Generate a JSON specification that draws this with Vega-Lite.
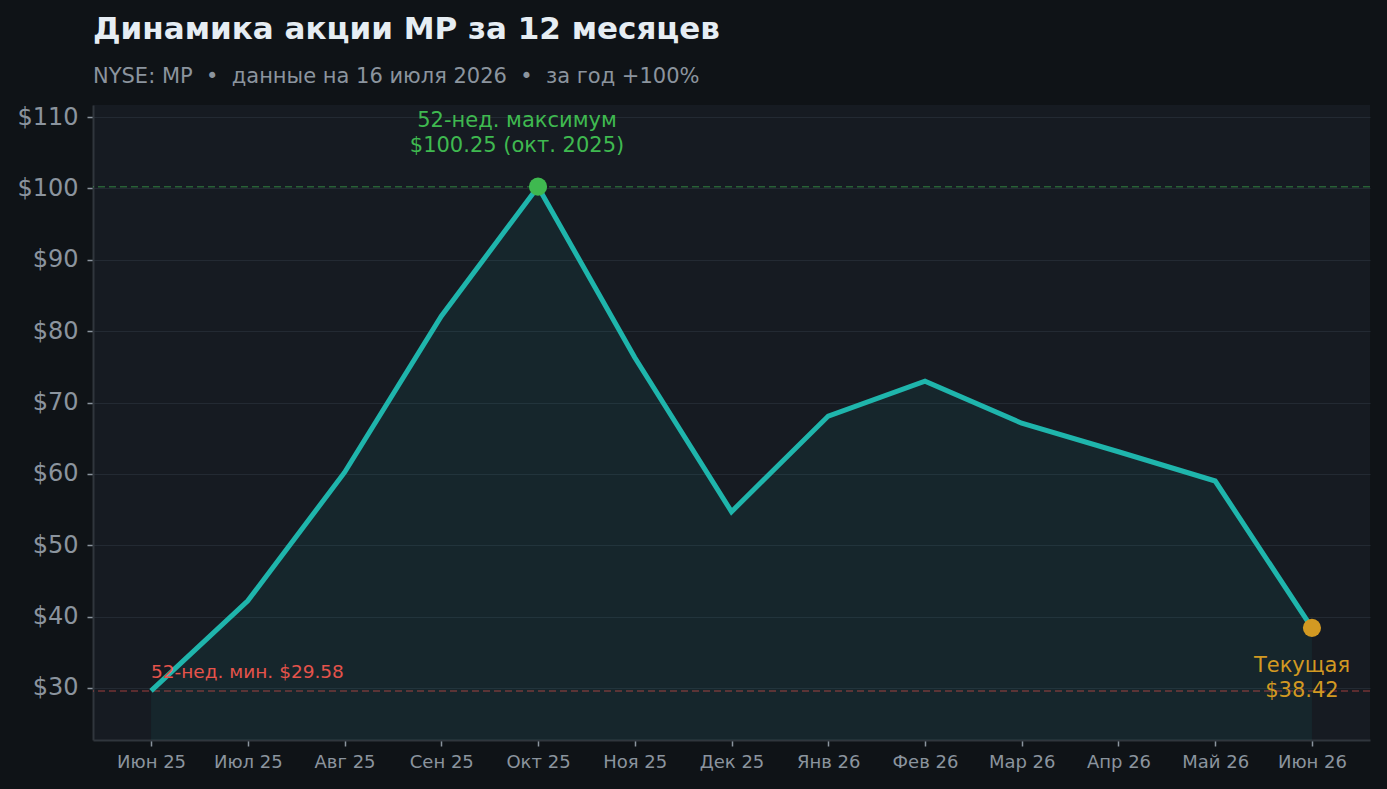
{
  "$schema": "https://vega.github.io/schema/vega-lite/v6.json",
  "width": 1387,
  "height": 789,
  "autosize": {"type": "fit", "contains": "padding"},
  "padding": {"left": 16, "right": 16, "top": 14, "bottom": 18},
  "background": "#0f1317",
  "title": {
    "text": "Динамика акции MP за 12 месяцев",
    "subtitle": "NYSE: MP \u00a0•\u00a0 данные на 16 июля 2026 \u00a0•\u00a0 за год +100%",
    "anchor": "start",
    "frame": "group",
    "font": "DejaVu Sans",
    "fontSize": 31,
    "fontWeight": "bold",
    "color": "#e6edf3",
    "subtitleFont": "DejaVu Sans",
    "subtitleFontSize": 21,
    "subtitleColor": "#8b949e",
    "subtitlePadding": 20,
    "offset": 17
  },
  "datasets": {
    "price": [
      {"month": "Июн 25", "price": 29.58},
      {"month": "Июл 25", "price": 42.2},
      {"month": "Авг 25", "price": 60.2},
      {"month": "Сен 25", "price": 82.1},
      {"month": "Окт 25", "price": 100.25},
      {"month": "Ноя 25", "price": 76.3},
      {"month": "Дек 25", "price": 54.7},
      {"month": "Янв 26", "price": 68.1},
      {"month": "Фев 26", "price": 73.0},
      {"month": "Мар 26", "price": 67.1},
      {"month": "Апр 26", "price": 63.1},
      {"month": "Май 26", "price": 59.0},
      {"month": "Июн 26", "price": 38.42}
    ],
    "high": [{"month": "Окт 25", "price": 100.25, "label": ["52-нед. максимум", "$100.25 (окт. 2025)"]}],
    "low": [{"month": "Июн 25", "price": 29.58, "label": "52-нед. мин. $29.58"}],
    "current": [{"month": "Июн 26", "price": 38.42, "label": ["Текущая", "$38.42"]}]
  },
  "encoding": {
    "x": {
      "field": "month",
      "type": "ordinal",
      "scale": {
        "type": "point",
        "padding": 0.6,
        "domain": ["Июн 25", "Июл 25", "Авг 25", "Сен 25", "Окт 25", "Ноя 25", "Дек 25", "Янв 26", "Фев 26", "Мар 26", "Апр 26", "Май 26", "Июн 26"]
      },
      "axis": {"title": null, "labelAngle": 0, "labelFontSize": 18, "labelPadding": 7}
    },
    "y": {
      "field": "price",
      "type": "quantitative",
      "scale": {"domain": [22.7, 111.7], "nice": false, "zero": false},
      "axis": {
        "title": null,
        "values": [30, 40, 50, 60, 70, 80, 90, 100, 110],
        "labelExpr": "'$' + datum.value",
        "labelFontSize": 24,
        "labelPadding": 9
      }
    }
  },
  "layer": [
    {
      "data": {"name": "price"},
      "mark": {"type": "area", "color": "#1fb5ac", "opacity": 0.08},
      "encoding": {"y2": {"datum": 22.7}}
    },
    {
      "data": {"name": "high"},
      "mark": {"type": "rule", "color": "#3fb950", "strokeDash": [7, 4], "strokeWidth": 1.5, "opacity": 0.45},
      "encoding": {"x": null}
    },
    {
      "data": {"name": "low"},
      "mark": {"type": "rule", "color": "#e5534b", "strokeDash": [7, 4], "strokeWidth": 1.5, "opacity": 0.45},
      "encoding": {"x": null}
    },
    {
      "data": {"name": "price"},
      "mark": {"type": "line", "color": "#1fb5ac", "strokeWidth": 5}
    },
    {
      "data": {"name": "high"},
      "mark": {"type": "circle", "color": "#3fb950", "size": 330, "opacity": 1}
    },
    {
      "data": {"name": "current"},
      "mark": {"type": "circle", "color": "#d29922", "size": 330, "opacity": 1}
    },
    {
      "data": {"name": "high"},
      "mark": {"type": "text", "color": "#3fb950", "font": "DejaVu Sans", "fontSize": 21, "align": "center", "baseline": "bottom", "dx": -21, "dy": -56, "lineHeight": 25},
      "encoding": {"text": {"field": "label"}}
    },
    {
      "data": {"name": "low"},
      "mark": {"type": "text", "color": "#e5534b", "font": "DejaVu Sans", "fontSize": 18.5, "align": "left", "baseline": "bottom", "dy": -9},
      "encoding": {"text": {"field": "label"}}
    },
    {
      "data": {"name": "current"},
      "mark": {"type": "text", "color": "#d29922", "font": "DejaVu Sans", "fontSize": 21, "align": "center", "baseline": "top", "dx": -10, "dy": 27, "lineHeight": 25},
      "encoding": {"text": {"field": "label"}}
    }
  ],
  "config": {
    "view": {"fill": "#161b22", "stroke": null},
    "font": "DejaVu Sans",
    "axis": {
      "labelFont": "DejaVu Sans",
      "labelColor": "#8b949e",
      "domainColor": "#30363d",
      "domainWidth": 2,
      "tickColor": "#8b949e",
      "tickSize": 6,
      "tickWidth": 1.5,
      "gridColor": "#232a33",
      "gridWidth": 1
    }
  }
}
